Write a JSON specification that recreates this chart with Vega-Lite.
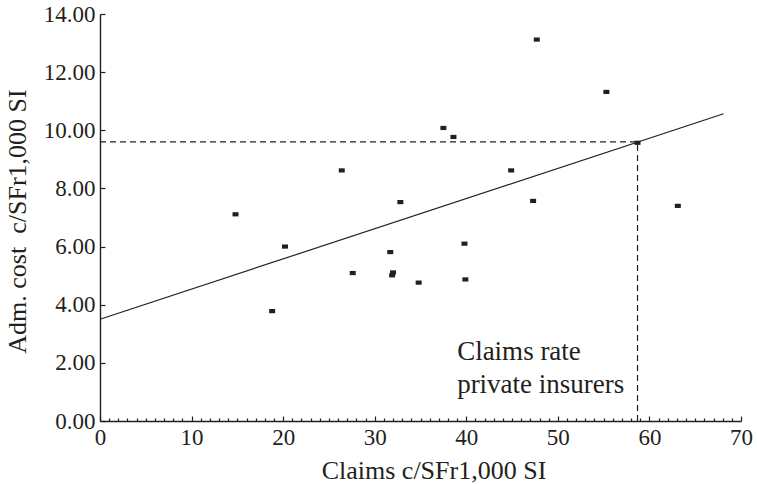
{
  "$schema": "https://vega.github.io/schema/vega-lite/v6.json",
  "width": 641,
  "height": 407,
  "autosize": "none",
  "padding": {"left": 100, "top": 14, "right": 16, "bottom": 63},
  "background": "white",
  "config": {
    "view": {"stroke": null},
    "font": "Liberation Serif",
    "axis": {
      "grid": false,
      "domainColor": "#231f20",
      "domainWidth": 1.4,
      "tickColor": "#231f20",
      "tickWidth": 1.2,
      "labelColor": "#231f20",
      "labelFont": "Liberation Serif",
      "labelFontSize": 23,
      "titleColor": "#231f20",
      "titleFont": "Liberation Serif",
      "titleFontSize": 26,
      "titleFontWeight": "normal"
    }
  },
  "datasets": {
    "points": [
      {"claims": 14.8, "cost": 7.11},
      {"claims": 18.8, "cost": 3.78},
      {"claims": 20.2, "cost": 6.0},
      {"claims": 26.4, "cost": 8.62},
      {"claims": 27.6, "cost": 5.09},
      {"claims": 31.7, "cost": 5.81},
      {"claims": 32.0, "cost": 5.11},
      {"claims": 31.9, "cost": 5.01},
      {"claims": 32.8, "cost": 7.53},
      {"claims": 34.8, "cost": 4.76},
      {"claims": 37.5, "cost": 10.08},
      {"claims": 38.6, "cost": 9.77},
      {"claims": 39.8, "cost": 6.1},
      {"claims": 39.9, "cost": 4.87},
      {"claims": 44.9, "cost": 8.62},
      {"claims": 47.3, "cost": 7.57},
      {"claims": 47.7, "cost": 13.12},
      {"claims": 55.3, "cost": 11.32},
      {"claims": 58.7, "cost": 9.57},
      {"claims": 63.1, "cost": 7.4}
    ],
    "fit": [
      {"claims": 0, "cost": 3.5},
      {"claims": 68.1, "cost": 10.57}
    ],
    "hline": [
      {"claims": 0, "claims2": 58.7, "cost": 9.6}
    ],
    "vline": [
      {"claims": 58.7, "cost": 0, "cost2": 9.6}
    ],
    "note": [
      {"claims": 39, "cost": 2.1, "label": "Claims rate\nprivate insurers"}
    ]
  },
  "encoding": {
    "x": {
      "field": "claims",
      "type": "quantitative",
      "scale": {"domain": [0, 70], "nice": false},
      "axis": {
        "orient": "bottom",
        "values": [0,1,2,3,4,5,6,7,8,9,10,11,12,13,14,15,16,17,18,19,20,21,22,23,24,25,26,27,28,29,30,31,32,33,34,35,36,37,38,39,40,41,42,43,44,45,46,47,48,49,50,51,52,53,54,55,56,57,58,59,60,61,62,63,64,65,66,67,68,69,70],
        "labelExpr": "datum.value % 10 === 0 ? datum.label : ''",
        "format": "d",
        "tickSize": {"condition": {"test": "datum.value % 10 === 0", "value": -5}, "value": -3},
        "labelPadding": 10,
        "labelFlush": false,
        "labelOverlap": false,
        "title": "Claims c/SFr1,000 SI",
        "titleX": 333.5,
        "titleY": 57,
        "titleBaseline": "alphabetic",
        "titleAlign": "center"
      }
    },
    "y": {
      "field": "cost",
      "type": "quantitative",
      "scale": {"domain": [0, 14], "nice": false},
      "axis": {
        "orient": "left",
        "values": [0, 2, 4, 6, 8, 10, 12, 14],
        "format": ".2f",
        "tickSize": -5,
        "labelPadding": 10,
        "labelFlush": false,
        "title": "Adm. cost\u00a0 c/SFr1,000 SI",
        "titleX": -75,
        "titleY": 207,
        "titleAngle": -90,
        "titleBaseline": "alphabetic",
        "titleAlign": "center"
      }
    }
  },
  "layer": [
    {
      "data": {"name": "hline"},
      "mark": {"type": "rule", "color": "#231f20", "strokeWidth": 1.2, "strokeDash": [6, 4]},
      "encoding": {
        "x2": {"field": "claims2"}
      }
    },
    {
      "data": {"name": "vline"},
      "mark": {"type": "rule", "color": "#231f20", "strokeWidth": 1.2, "strokeDash": [6, 4]},
      "encoding": {
        "y2": {"field": "cost2"}
      }
    },
    {
      "data": {"name": "fit"},
      "mark": {"type": "line", "color": "#231f20", "strokeWidth": 1.2},
      "encoding": {}
    },
    {
      "data": {"name": "points"},
      "mark": {"type": "point", "shape": "M-1,-0.7H1V0.7H-1Z", "size": 36, "filled": true, "color": "#231f20", "opacity": 1, "strokeWidth": 0},
      "encoding": {}
    },
    {
      "data": {"name": "note"},
      "mark": {"type": "text", "align": "left", "baseline": "alphabetic", "fontSize": 27, "lineHeight": 33, "lineBreak": "\n", "font": "Liberation Serif", "color": "#231f20"},
      "encoding": {
        "text": {"field": "label"}
      }
    }
  ]
}
